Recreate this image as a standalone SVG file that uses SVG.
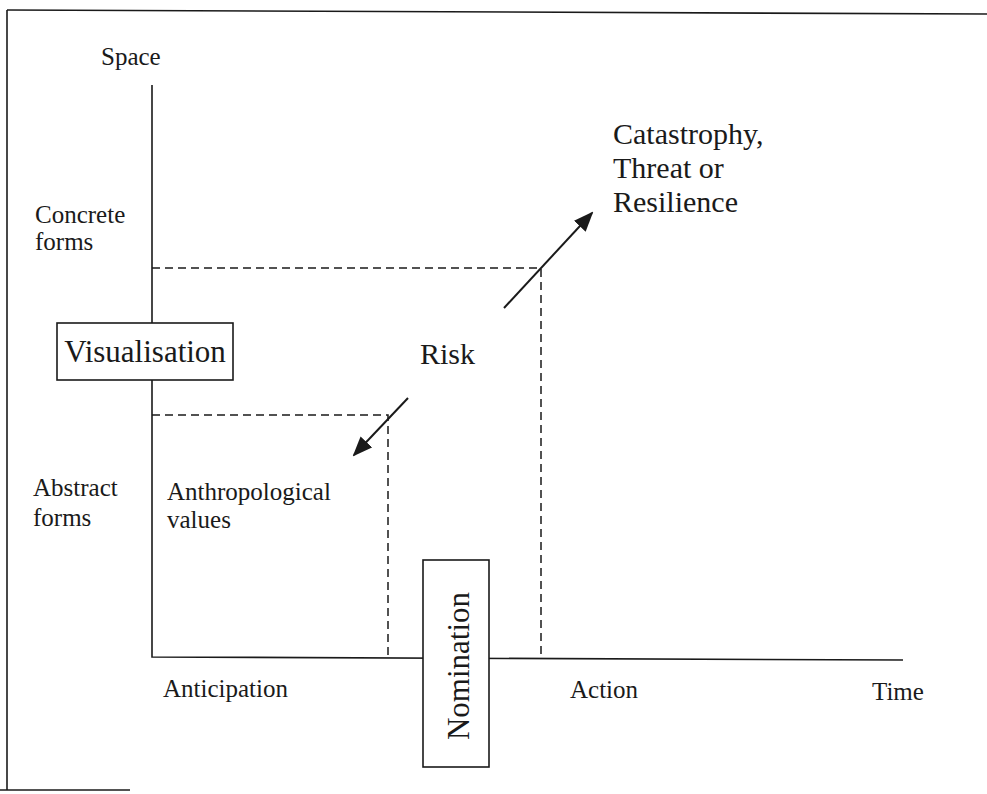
<svg xmlns="http://www.w3.org/2000/svg" width="987" height="794" viewBox="0 0 987 794">
<style>
text{font-family:"Liberation Serif","Times New Roman",serif;fill:#1a1a1a}
.s{font-size:25px}
.m{font-size:30px}
.l{font-size:31px}
.ax{stroke:#1a1a1a;stroke-width:1.6;fill:none}
.dash{stroke:#1a1a1a;stroke-width:1.5;stroke-dasharray:8 5;fill:none}
.arr{stroke:#1a1a1a;stroke-width:2;fill:none;marker-end:url(#ah)}
.box{fill:#fff;stroke:#1a1a1a;stroke-width:1.6}
</style>
<defs>
<marker id="ah" markerWidth="10" markerHeight="8" refX="9" refY="4" orient="auto" markerUnits="strokeWidth" viewBox="0 0 10 8">
<path d="M0,0 L10,4 L0,8 Z" fill="#1a1a1a"/>
</marker>
</defs>
<rect width="987" height="794" fill="#fff"/>
<g id="frame" class="ax">
<path d="M7,10 L987,14"/>
<path d="M7,10 L7,790"/>
<path d="M0,790 L130,790"/>
</g>
<g id="connectors">
<path class="ax" d="M152,85 L152,657 L903,660"/>
<path class="dash" d="M152,268 L541,268 L541,657"/>
<path class="dash" d="M152,415 L388,415 L388,657"/>
<path class="arr" d="M504,308 L592,213"/>
<path class="arr" d="M408,398 L354,455"/>
</g>
<g id="visualisation">
<rect class="box" x="57" y="323" width="176" height="57"/>
<text class="l" x="145" y="362" text-anchor="middle">Visualisation</text>
</g>
<g id="nomination">
<rect class="box" x="423" y="560" width="66" height="207"/>
<text class="l" transform="translate(469,666) rotate(-90)" text-anchor="middle">Nomination</text>
</g>
<g id="labels">
<text class="s" x="101" y="65">Space</text>
<text class="s" x="35" y="223">Concrete</text>
<text class="s" x="35" y="250">forms</text>
<text class="s" x="33" y="496">Abstract</text>
<text class="s" x="33" y="526">forms</text>
<text class="s" x="167" y="500">Anthropological</text>
<text class="s" x="167" y="528">values</text>
<text class="m" x="420" y="364">Risk</text>
<text class="m" x="613" y="144">Catastrophy,</text>
<text class="m" x="613" y="178">Threat or</text>
<text class="m" x="613" y="212">Resilience</text>
<text class="s" x="163" y="697">Anticipation</text>
<text class="s" x="570" y="698">Action</text>
<text class="s" x="872" y="700">Time</text>
</g>
</svg>
